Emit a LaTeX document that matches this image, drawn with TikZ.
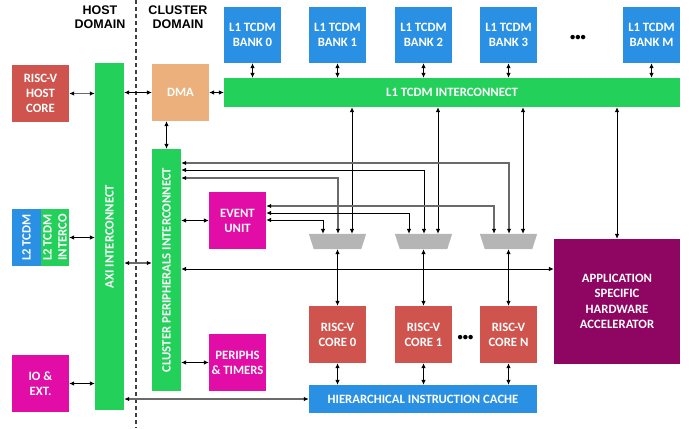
\documentclass[tikz,border=0pt]{standalone}
\usepackage{fontspec}
\setmainfont{Carlito}
\newfontfamily\hdrfont{Liberation Sans}
\usetikzlibrary{arrows.meta,calc}
\definecolor{cgreen}{HTML}{23D15A}
\definecolor{cblue}{HTML}{2A90E3}
\definecolor{cred}{HTML}{CF544D}
\definecolor{corange}{HTML}{EBB07B}
\definecolor{cmag}{HTML}{E20DA6}
\definecolor{cacc}{HTML}{8F0662}
\definecolor{cmux}{HTML}{B5B5B5}
\definecolor{cgray}{HTML}{6A6A6A}
\begin{document}
\begin{tikzpicture}[x=1pt,y=-1pt,
  blk/.style={rectangle, inner sep=0pt, text=white, align=center,
    font=\fontsize{12.7}{15}\selectfont\bfseries},
  sq/.style={blk, minimum width=57pt, minimum height=57pt},
  lbl/.style={inner sep=0pt, text=white, align=center,
    font=\fontsize{12.7}{15}\selectfont\bfseries},
  hdr/.style={inner sep=0pt, align=center,
    font=\hdrfont\fontsize{12.5}{14}\selectfont\bfseries},
  muxbox/.style={rectangle, inner sep=0pt, minimum width=57pt, minimum height=15pt},
  wire/.style={line width=0.8pt, black},
  gwire/.style={line width=1.2pt, cgray},
  dbl/.style={{Latex[length=5pt,width=4.5pt,color=black]}-{Latex[length=5pt,width=4.5pt,color=black]}},
  dots/.style={inner sep=0pt, font=\fontsize{10.5}{10.5}\selectfont\bfseries}
]
\useasboundingbox (0,0) rectangle (692,428);

% headers and domain separator
\node[hdr] (hhost) at (100,17) {HOST\\DOMAIN};
\node[hdr] (hclus) at (178,17) {CLUSTER\\DOMAIN};
\draw[line width=1.3pt, black!75, dash pattern=on 4pt off 3pt] (136,0) -- (136,428);

% host domain
\node[sq, fill=cred] (host) at (40.5,93.5) {RISC-V\\HOST\\CORE};
\node[blk, fill=cgreen, minimum width=29pt, minimum height=347pt] (axi) at (109.5,236.5) {};
\node[lbl, rotate=90] (axit) at (axi.center) {AXI INTERCONNECT};
\node[blk, fill=cblue, minimum width=29pt, minimum height=57pt] (l2) at (26.5,237.5) {};
\node[lbl, rotate=90] (l2t) at (l2.center) {L2 TCDM};
\node[blk, fill=cgreen, minimum width=28pt, minimum height=57pt] (l2i) at (55,237.5) {};
\node[lbl, rotate=90] (l2it) at (l2i.center) {L2 TCDM\\INTERCO};
\node[sq, fill=cmag] (io) at (40.5,383.5) {IO \&\\EXT.};

% cluster domain
\node[sq, fill=corange] (dma) at (180.5,92.5) {DMA};
\foreach \n/\x/\t in {b0/252.5/0, b1/337.5/1, b2/423.5/2, b3/508.5/3, bm/651.5/M}
  \node[blk, fill=cblue, minimum width=57pt, minimum height=56pt] (\n) at (\x,35) {L1 TCDM\\BANK \t};
\node[dots] (bdots) at (578,38) {•••};
\node[blk, fill=cgreen, minimum width=456pt, minimum height=29pt] (l1) at (452,92.5) {L1 TCDM INTERCONNECT};

\node[blk, fill=cgreen, minimum width=29pt, minimum height=242pt] (cpi) at (166.5,270) {};
\node[lbl, rotate=90] (cpit) at (cpi.center) {CLUSTER PERIPHERALS INTERCONNECT};
\node[sq, fill=cmag] (ev) at (237.5,220.5) {EVENT\\UNIT};
\node[sq, fill=cmag] (per) at (237.5,362.5) {PERIPHS\\\& TIMERS};

% multiplexers
\foreach \n/\x in {m0/337.5, m1/423.5, m2/508.5}{
  \node[muxbox] (\n) at (\x,241.5) {};
  \fill[cmux] (\n.north west) -- (\n.north east) -- ([xshift=-5pt]\n.south east)
     -- ([xshift=5pt]\n.south west) -- cycle;
  \coordinate (\n i1) at ([xshift=-14.5pt]\n.north);
  \coordinate (\n i2) at ([xshift=0.5pt]\n.north);
  \coordinate (\n i3) at ([xshift=14.5pt]\n.north);
}

% cores and cache
\node[sq, fill=cred] (c0) at (337.5,334.5) {RISC-V\\CORE 0};
\node[sq, fill=cred] (c1) at (423.5,334.5) {RISC-V\\CORE 1};
\node[sq, fill=cred] (cn) at (508.5,334.5) {RISC-V\\CORE N};
\node[dots] (cdots) at (465.5,338) {•••};
\node[blk, fill=cblue, minimum width=228pt, minimum height=28pt] (cache) at (423,399) {HIERARCHICAL INSTRUCTION CACHE};

% accelerator
\node[blk, fill=cacc, minimum width=126pt, minimum height=125pt, font=\fontsize{12.7}{15.5}\selectfont\bfseries] (acc) at (617,301.5) {APPLICATION\\SPECIFIC\\HARDWARE\\ACCELERATOR};

% y levels of horizontal wires
\coordinate (yA) at (0,163);
\coordinate (yB) at (0,170);
\coordinate (yC) at (0,178);
\coordinate (yD) at (0,206);
\coordinate (yE) at (0,213);
\coordinate (yF) at (0,220);
\coordinate (yG) at (0,263);
\coordinate (yH) at (0,269);

% host-side connectors
\draw[gwire, dbl] (host.east) -- (host.east -| axi.west);
\draw[wire, dbl] (axi.east |- dma.west) -- (dma.west);
\draw[wire, dbl] (dma.east) -- (dma.east -| l1.west);
\draw[wire, dbl] (cpi.north |- dma.south) -- (cpi.north);
\draw[wire, dbl] (l2i.east) -- (l2i.east -| axi.west);
\draw[gwire, dbl] (axi.east |- yG) -- (cpi.west |- yG);
\draw[wire, dbl] (io.east) -- (io.east -| axi.west);
\draw[gwire, dbl] (cache.west) -- (cache.west -| axi.east);

% banks to interconnect
\foreach \n in {b0,b1,b2,b3,bm}
  \draw[wire, dbl] (\n.south) -- (\n.south |- l1.north);

% peripherals
\draw[wire, dbl] (ev.west) -- (ev.west -| cpi.east);
\draw[wire, dbl] (per.west) -- (per.west -| cpi.east);

% interconnect to multiplexers and accelerator
\foreach \m in {m0,m1,m2}
  \draw[wire, dbl] (l1.south -| \m i3) -- (\m i3);
\draw[wire, dbl] (acc.north |- l1.south) -- (acc.north);

% cluster peripherals interconnect to multiplexers
\draw[gwire, dbl] (cpi.east |- yA) -| (m2i2);
\draw[wire, dbl] (cpi.east |- yB) -| (m1i2);
\draw[gwire, dbl] (cpi.east |- yC) -| (m0i2);

% event unit to multiplexers
\draw[gwire, dbl] (ev.east |- yD) -| (m2i1);
\draw[wire, dbl] (ev.east |- yE) -| (m1i1);
\draw[wire, dbl] (ev.east |- yF) -| (m0i1);

% cluster peripherals interconnect to accelerator
\draw[wire, dbl] (cpi.east |- yH) -- (acc.west |- yH);

% multiplexers to cores, cores to cache
\foreach \m/\c in {m0/c0, m1/c1, m2/cn}{
  \draw[wire, dbl] (\m.south) -- (\c.north);
  \draw[wire, dbl] (\c.south) -- (\c.south |- cache.north);
}
\end{tikzpicture}
\end{document}
